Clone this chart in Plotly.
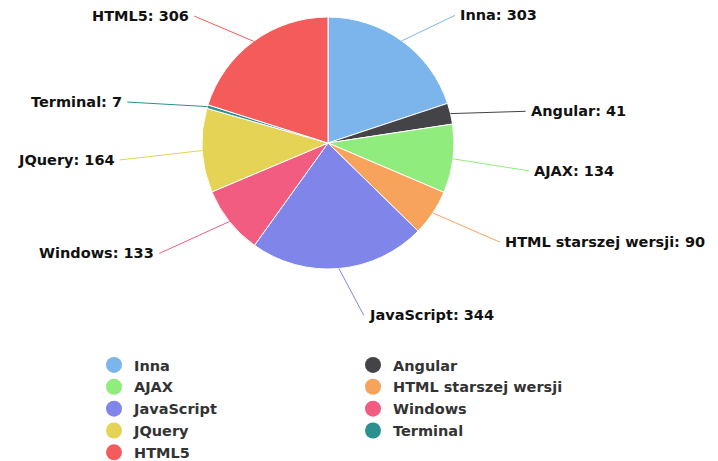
import math
import plotly.graph_objects as go

categories = ["Inna", "Angular", "AJAX", "HTML starszej wersji", "JavaScript",
              "Windows", "JQuery", "Terminal", "HTML5"]
values = [303, 41, 134, 90, 344, 133, 164, 7, 306]
colors = ["#7cb5ec", "#434348", "#90ed7d", "#f7a35c", "#8085e9",
          "#f15c80", "#e4d354", "#2b908f", "#f45b5b"]

W, H = 718, 461
CX, CY, R = 320, 135, 126

fig = go.Figure()
fig.add_trace(go.Pie(
    labels=categories, values=values, sort=False, direction="clockwise",
    rotation=0, textinfo="none", hoverinfo="label+value",
    marker=dict(colors=colors, line=dict(color="#ffffff", width=1)),
    domain=dict(x=[(CX - R) / W, (CX + R) / W], y=[1 - (CY + R) / H, 1 - (CY - R) / H]),
    showlegend=False,
))

# legend entries with round markers
for name, col in zip(categories, colors):
    fig.add_trace(go.Scatter(x=[None], y=[None], mode="markers", name=name,
                             marker=dict(color=col, size=16, symbol="circle"),
                             hoverinfo="skip"))

# data labels with connectors, placed from slice mid-angles
total = sum(values)
cum = 0
for name, v, col in zip(categories, values, colors):
    mid = (cum + v / 2) / total * 2 * math.pi
    cum += v
    s, c = math.sin(mid), math.cos(mid)
    hx, hy = CX + R * s, CY - R * c
    L = 40
    tx = CX + (R + L) * 1.1 * s + (20 if s >= 0 else -26)
    ty = max(CY - (R + L) * c + 7, 7)
    fig.add_annotation(
        x=hx / W, y=1 - hy / H, xref="paper", yref="paper",
        ax=tx - hx, ay=ty - hy, axref="pixel", ayref="pixel",
        text=f"<b>{name}: {v}</b>", showarrow=True, arrowhead=0,
        arrowwidth=1, arrowcolor=col, xanchor="left" if s >= 0 else "right",
        yanchor="middle", borderpad=4,
        font=dict(family="DejaVu Sans", size=14.5, color="#111111"),
    )

fig.update_layout(
    width=W, height=H, margin=dict(l=0, r=0, t=0, b=0, autoexpand=False),
    paper_bgcolor="#ffffff", plot_bgcolor="#ffffff",
    xaxis=dict(visible=False), yaxis=dict(visible=False),
    legend=dict(orientation="h", x=86 / W, y=1 - 341 / H, xanchor="left", yanchor="top",
                entrywidth=214, entrywidthmode="pixels", itemclick=False,
                font=dict(family="DejaVu Sans", size=14.5, color="#333333", weight="bold"),
                traceorder="normal"),
    font=dict(family="DejaVu Sans"),
)
fig.write_html("out.html")
